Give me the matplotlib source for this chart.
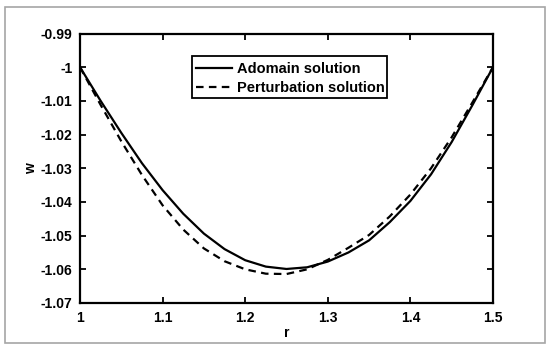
import matplotlib
matplotlib.use("Agg")
import matplotlib.pyplot as plt
from matplotlib.patches import Rectangle

r_vals = [1.000, 1.025, 1.050, 1.075, 1.100, 1.125, 1.150, 1.175, 1.200, 1.225,
          1.250, 1.275, 1.300, 1.325, 1.350, 1.375, 1.400, 1.425, 1.450, 1.475, 1.500]
adomain = [-1.0000, -1.0100, -1.0195, -1.0285, -1.0365, -1.0435, -1.0494, -1.0540,
           -1.0573, -1.0592, -1.0599, -1.0594, -1.0577, -1.0550, -1.0514, -1.0460,
           -1.0397, -1.0318, -1.0222, -1.0113, -1.0000]
perturbation = [-1.0000, -1.0112, -1.0220, -1.0320, -1.0410, -1.0482, -1.0538, -1.0576,
                -1.0600, -1.0613, -1.0614, -1.0600, -1.0572, -1.0536, -1.0498, -1.0443,
                -1.0378, -1.0300, -1.0208, -1.0105, -1.0000]

xticks = [1, 1.1, 1.2, 1.3, 1.4, 1.5]
xtick_labels = ["1", "1.1", "1.2", "1.3", "1.4", "1.5"]
yticks = [-1.07, -1.06, -1.05, -1.04, -1.03, -1.02, -1.01, -1.0, -0.99]
ytick_labels = ["-1.07", "-1.06", "-1.05", "-1.04", "-1.03", "-1.02", "-1.01", "-1", "-0.99"]

plt.rcParams['font.family'] = ['Liberation Sans', 'DejaVu Sans']
plt.rcParams['font.weight'] = 'bold'

fig = plt.figure(figsize=(5.5, 3.49), dpi=100)
fig.patches.append(Rectangle((5/550, 1-343/349), 540/550, 336/349, transform=fig.transFigure,
                             fill=False, edgecolor='#a6a6a6', linewidth=1.2))
ax = fig.add_axes([80/550, 1-303/349, 413/550, 269.5/349])

ax.plot(r_vals, adomain, color='black', lw=1.6, label='Adomain solution')
ax.plot(r_vals, perturbation, color='black', lw=1.6, ls=(0, (3.4, 2.4)), label='Perturbation solution')

ax.set_xlim(1, 1.5)
ax.set_ylim(-1.07, -0.99)
ax.set_xticks(xticks)
ax.set_xticklabels(xtick_labels)
ax.set_yticks(yticks)
ax.set_yticklabels(ytick_labels)
ax.tick_params(direction='in', top=True, right=True, length=4, width=1.3,
               labelsize=10)
ax.tick_params(axis='x', pad=5.5)
ax.tick_params(axis='y', pad=5.5)
for s in ax.spines.values():
    s.set_linewidth(1.6)
ax.set_xlabel('r', fontsize=10, fontweight='bold', labelpad=1)
ax.set_ylabel('w', fontsize=10, fontweight='bold', labelpad=2)

leg = ax.legend(loc='upper left', bbox_to_anchor=(193/550, 1-59/349), bbox_transform=fig.transFigure,
                fontsize=10.5, frameon=False,
                handlelength=2.5, handletextpad=0.3, borderpad=0.2, labelspacing=0.35,
                borderaxespad=0)
fig.patches.append(Rectangle((192/550, 1-98/349), 195/550, 42/349, transform=fig.transFigure,
                             fill=False, edgecolor='black', linewidth=1.3, zorder=5))

fig.savefig('out.png', dpi=100)
